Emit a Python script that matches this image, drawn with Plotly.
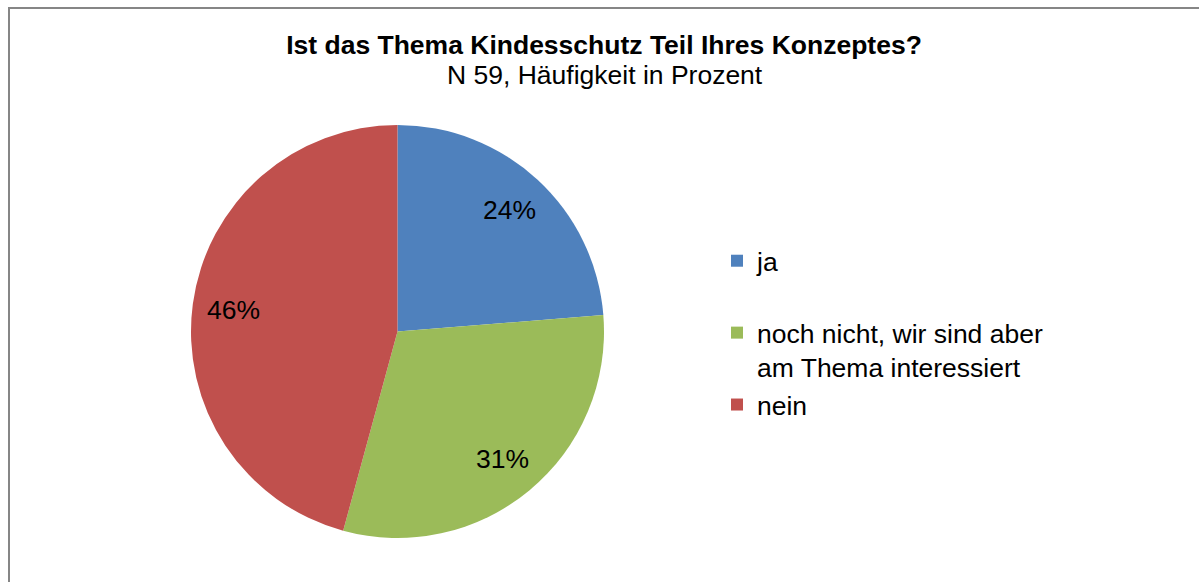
import math
import plotly.graph_objects as go

# ---- data ----
categories = ["ja", "noch nicht, wir sind aber am Thema interessiert", "nein"]
counts = [14, 18, 27]  # N = 59
title_text = "Ist das Thema Kindesschutz Teil Ihres Konzeptes?"
subtitle_text = "N 59, Häufigkeit in Prozent"

# ---- styling / layout constants ----
colors = ["#4F81BD", "#9BBB59", "#C0504D"]
legend_names = ["ja<br> ", "noch nicht, wir sind aber<br>am Thema interessiert", "nein"]
W, H = 1199, 582
FONT = "Liberation Sans, Arial, sans-serif"
FS = 26.5
CX, CY, R = 397.5, 331.5, 206.5  # pie centre/radius in px

fig = go.Figure(
    go.Pie(
        labels=legend_names,
        values=counts,
        sort=False,
        direction="clockwise",
        rotation=0,
        marker=dict(colors=colors, line=dict(width=0)),
        textinfo="none",
        hoverinfo="skip",
        domain=dict(x=[(CX - R) / W, (CX + R) / W], y=[1 - (CY + R) / H, 1 - (CY - R) / H]),
    )
)

# percentage labels, placed along each slice's mid-angle
total = sum(counts)
cum = 0
annotations = []
for v in counts:
    mid = (cum + v / 2) / total * 2 * math.pi
    cum += v
    px = CX + 0.8 * R * math.sin(mid)
    py = CY - 0.8 * R * math.cos(mid)
    annotations.append(dict(
        x=px / W, y=1 - py / H, xref="paper", yref="paper",
        text=f"{round(v / total * 100)}%", showarrow=False,
        font=dict(family=FONT, size=FS, color="black"),
        xanchor="center", yanchor="middle",
    ))

annotations.append(dict(
    x=605 / W, y=1 - 75 / H, xref="paper", yref="paper", text=subtitle_text,
    showarrow=False, font=dict(family=FONT, size=FS, color="black"),
    xanchor="center", yanchor="middle",
))

fig.update_layout(
    width=W, height=H,
    margin=dict(l=0, r=0, t=0, b=0),
    paper_bgcolor="white", plot_bgcolor="white",
    title=dict(text=f"<b>{title_text}</b>", x=604 / W, y=1 - 45 / H,
               xanchor="center", yanchor="middle",
               font=dict(family=FONT, size=FS, color="black")),
    annotations=annotations,
    showlegend=True,
    legend=dict(x=717 / W, y=1 - 237 / H, xanchor="left", yanchor="top",
                font=dict(family=FONT, size=FS, color="black"),
                valign="top", bgcolor="rgba(0,0,0,0)", traceorder="normal"),
    shapes=[dict(type="rect", xref="paper", yref="paper",
                 x0=9 / W, x1=1.05, y0=-0.05, y1=1 - 8 / H,
                 line=dict(color="#868686", width=2), fillcolor="rgba(0,0,0,0)")],
)

fig.write_html("out.html", config={"displayModeBar": False},
               post_script="document.body.style.margin='0px';")
